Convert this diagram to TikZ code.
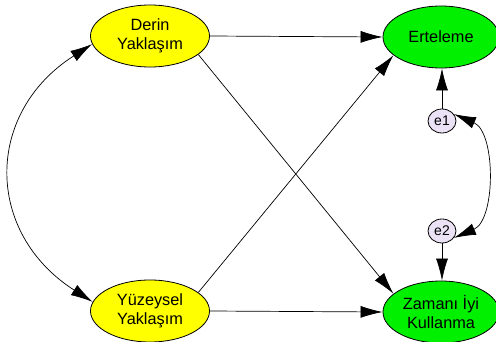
\documentclass[tikz,border=0pt]{standalone}
\usepackage{fontspec}
\setmainfont{Liberation Sans}
\usetikzlibrary{shapes.geometric,arrows.meta}
\definecolor{latentyellow}{RGB}{255,255,0}
\definecolor{outgreen}{RGB}{0,240,0}
\definecolor{errlilac}{RGB}{236,226,246}
\begin{document}
\begin{tikzpicture}[x = 1pt, y = -1pt,
	tip/.style = {-{Latex[length=22pt, width=12pt]}, line width=.7pt},
	bothtip/.style = {{Latex[length=22pt, width=12pt]}-{Latex[length=22pt, width=12pt]}, line width=.7pt},
	latent/.style = {ellipse, draw, line width=.8pt, fill=latentyellow, minimum width=119pt, minimum height=62pt, inner sep=0pt, align=center, font=\fontsize{16.3}{19}\selectfont},
	outcome/.style = {latent, fill=outgreen, minimum width=116pt},
	err/.style = {ellipse, draw, line width=.8pt, fill=errlilac, minimum width=28pt, minimum height=24pt, inner sep=0pt, font=\fontsize{14}{16}\selectfont}]
	\useasboundingbox (0,0) rectangle (496,342);
	\node [latent] (derin) at (150,36) {Derin\\Yaklaşım};
	\node [latent] (yuzey) at (150,311) {Yüzeysel\\Yaklaşım};
	\node [outcome] (ertel) at (441,37) {Erteleme};
	\node [outcome] (zaman) at (441,312) {Zamanı İyi\\Kullanma};
	\node [err] (e1) at (442,121) {e1};
	\node [err] (e2) at (442,231) {e2};
	\draw [tip] (derin.east) -- (ertel.west);
	\draw [tip] (yuzey.east) -- (zaman.west);
	\draw [tip] (derin.-21) -- (zaman.159);
	\draw [tip] (yuzey.21) -- (ertel.-159);
	\draw [tip] (e1.north) -- (e1.north |- ertel.south);
	\draw [tip] (e2.south) -- (e2.south |- zaman.north);
	\draw [bothtip] (derin.188) .. controls +(-108,69) and +(-108,-69) .. (yuzey.171);
	\draw [bothtip] (e1.30) .. controls +(42,18) and +(42,-18) .. (e2.-30);
\end{tikzpicture}
\end{document}
